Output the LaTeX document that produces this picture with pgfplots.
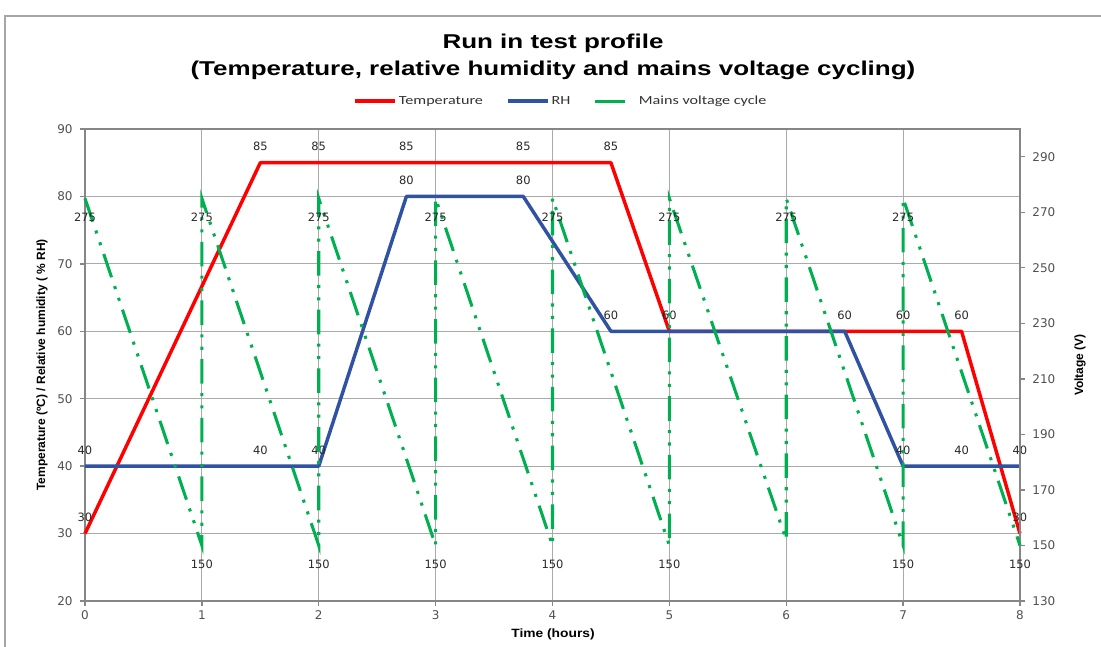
\documentclass[border=0pt]{standalone}
\usepackage{pgfplots}
\pgfplotsset{compat=1.18}
\usepackage{fontspec}
\usepackage{graphicx}
\setmainfont{Liberation Sans}
\newfontfamily\dv{DejaVu Sans}
\newfontfamily\cb{Carlito}

\definecolor{tred}{RGB}{255,0,0}
\definecolor{rhblue}{RGB}{47,82,162}
\definecolor{vgreen}{RGB}{0,176,80}
\definecolor{gridgray}{RGB}{170,170,170}
\definecolor{axisgray}{RGB}{134,134,134}
\definecolor{ticktxt}{RGB}{80,80,80}
\definecolor{lbltxt}{RGB}{40,40,40}
\definecolor{legtxt}{RGB}{50,50,50}

\begin{document}
\begin{tikzpicture}
\path[use as bounding box] (0,0) rectangle (825.75pt,485.25pt);

\begin{axis}[
  at={(63.75pt,34.5pt)}, anchor=south west,
  scale only axis, width=701.25pt, height=354pt,
  xmin=0, xmax=8, ymin=20, ymax=90,
  xtick={0,1,...,8}, ytick={20,30,...,90},
  xtick pos=bottom, ytick pos=left,
  grid=major, major grid style={gridgray, line width=0.75pt},
  axis line style={axisgray, line width=1.4pt},
  tick style={axisgray, line width=1pt}, tick align=outside, major tick length=3.75pt,
  /pgf/number format/assume math mode=true,
  tick label style={font=\dv\fontsize{9}{10}\selectfont, text=ticktxt},
  yticklabel style={xshift=-2pt},
  clip=false,
  nodes near coords={\pgfplotspointmeta},
  point meta=explicit symbolic,
  nodes near coords style={anchor=center, yshift=12pt, font=\dv\fontsize{8.6}{9}\selectfont, text=lbltxt},
]
% Temperature
\addplot[tred, line width=2.6pt, line join=round] coordinates {
 (0,30)[30] (1.5,85)[85] (2,85)[85] (2.75,85)[85] (3.75,85)[85] (4.5,85)[85]
 (5,60)[60] (7,60)[60] (7.5,60)[60] (8,30)[30]};
% RH
\addplot[rhblue, line width=2.6pt, line join=round] coordinates {
 (0,40)[40] (1.5,40)[40] (2,40)[40] (2.75,80)[80] (3.75,80)[80] (4.5,60)[60]
 (6.5,60)[60] (7,40)[40] (7.5,40)[40] (8,40)[40]};
\end{axis}

\begin{axis}[
  at={(63.75pt,34.5pt)}, anchor=south west,
  scale only axis, width=701.25pt, height=354pt,
  xmin=0, xmax=8, ymin=130, ymax=300,
  axis x line=none, axis y line*=right,
  ytick={130,150,...,290},
  axis line style={axisgray, line width=1.4pt, -},
  tick style={axisgray, line width=1pt}, tick align=outside, major tick length=3.75pt,
  /pgf/number format/assume math mode=true,
  tick label style={font=\dv\fontsize{9}{10}\selectfont, text=ticktxt},
  yticklabel style={xshift=2pt},
  clip=false,
  legend columns=3,
  legend style={at={(0.509,1.059)}, anchor=center, draw=none, fill=none,
    font=\cb\fontsize{9.3}{11}\selectfont, text=legtxt,
    /tikz/every even column/.append style={column sep=16pt},
    nodes={inner sep=1.5pt}},
  legend image code/.code={\draw[#1] (0pt,0pt) -- (30pt,0pt);},
]
\addlegendimage{tred, line width=2.6pt}
\addlegendentry{\scalebox{1.3}[1]{Temperature}}
\addlegendimage{rhblue, line width=2.6pt}
\addlegendentry{\scalebox{1.3}[1]{RH}}
\addlegendimage{vgreen, line width=2.3pt, dash pattern=on 22pt off 20pt}
\addlegendentry{\scalebox{1.3}[1]{Mains voltage cycle}}
\addplot[vgreen, line width=2.3pt, forget plot,
  dash pattern=on 18.4pt off 7pt on 2.3pt off 7pt on 2.3pt off 7pt,
  nodes near coords={\pgfplotspointmeta},
  point meta=explicit symbolic,
  nodes near coords style={anchor=center, yshift=-14.5pt, font=\dv\fontsize{8.6}{9}\selectfont, text=lbltxt},
] coordinates {
 (0,275)[275] (1,150)[150] (1,275)[275] (2,150)[150] (2,275)[275] (3,150)[150]
 (3,275)[275] (4,150)[150] (4,275)[275] (5,150)[150] (5,275)[275] (6,152)[{}]
 (6,275)[275] (7,150)[150] (7,275)[275] (8,150)[150]};
\end{axis}

\begin{scope}[x=0.75pt, y=-0.75pt, yshift=485.25pt]
  \draw[gray!70, line width=1pt] (5,647) -- (5,16) -- (1101,16);
  \node[font=\bfseries\fontsize{15}{18}\selectfont] at (553,43) {\scalebox{1.3}[1]{Run in test profile}};
  \node[font=\bfseries\fontsize{15}{18}\selectfont] at (553,70) {\scalebox{1.3}[1]{(Temperature, relative humidity and mains voltage cycling)}};
  \node[font=\bfseries\fontsize{9}{10}\selectfont, rotate=90] at (42,365) {Temperature (ºC) / Relative humidity ( \% RH)};
  \node[font=\bfseries\fontsize{9}{10}\selectfont, rotate=90] at (1080,365) {Voltage (V)};
  \node[font=\bfseries\fontsize{9}{10}\selectfont] at (553,634) {\scalebox{1.15}[1]{Time (hours)}};
\end{scope}
\end{tikzpicture}
\end{document}
